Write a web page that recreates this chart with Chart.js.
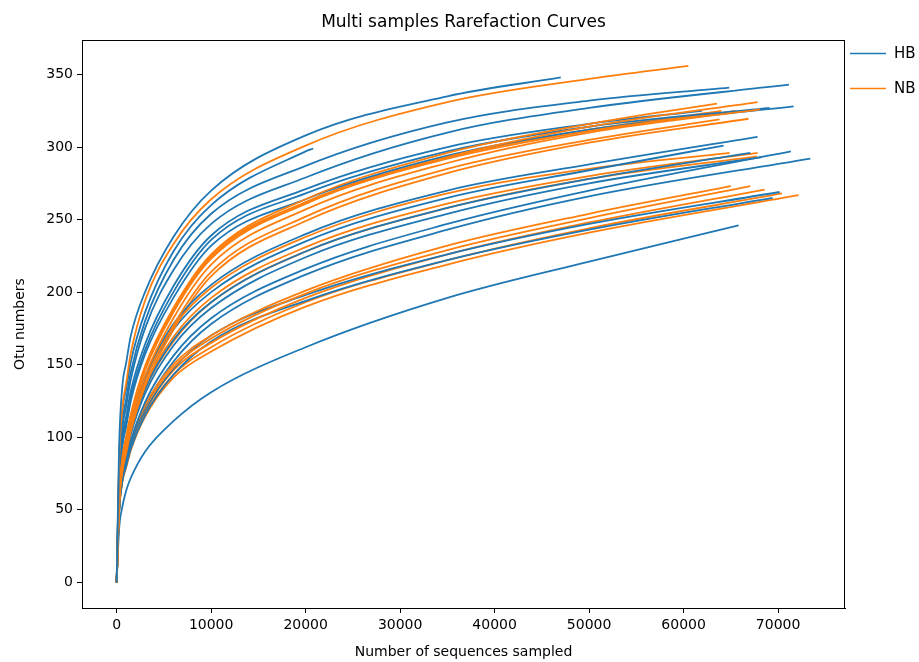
<!DOCTYPE html>
<html>
<head>
<meta charset="utf-8">
<script src="https://cdn.jsdelivr.net/npm/chart.js@4.4.1/dist/chart.umd.min.js"></script>
<style>
  html,body{margin:0;padding:0;background:#fff}
  #wrap{width:919px;height:662px}
</style>
</head>
<body>
<div id="wrap"><canvas id="rare" width="919" height="662"></canvas></div>
<script>
'use strict';
// sampling depths shared by every curve (each curve also has its own end depth)
const SAMPLE_X = [0, 250, 600, 1000, 1500, 3000, 6000, 10000, 20000, 35000, 50000];
const X_TICKS = [0, 10000, 20000, 30000, 40000, 50000, 60000, 70000];
const Y_TICKS = [0, 50, 100, 150, 200, 250, 300, 350];
const GROUPS = ['HB', 'NB'];
const COLORS = ['#1f77b4', '#ff7f0e'];

// HB samples: otu numbers at SAMPLE_X (only depths below the end), then end depth / end value
const HB_Y = [
  [0,92,135,151,170,200,238,270,308,335],
  [0,80,118,133,152,186,228,260,297],
  [0,75,110,126,145,180,222,254,287,317,332],
  [0,72,106,121,140,175,215,247,279,310,327],
  [0,65,96,110,128,160,200,236,268,297,314],
  [0,63,93,107,125,157,196,232,264,294,312],
  [0,68,100,114,132,164,204,239,271,300,316],
  [0,58,85,98,113,142,178,205,240,270,288],
  [0,56,82,95,110,139,174,200,235,265,284],
  [0,53,78,90,105,133,167,193,228,258,278],
  [0,52,76,88,102,130,163,189,224,254,275],
  [0,49,72,83,97,124,156,182,216,247,270],
  [0,48,70,81,95,121,152,178,212,243,266],
  [0,49,72,82,95,118,147,170,198,226,247],
  [0,48,70,80,92,115,143,166,194,222,243],
  [0,36,52,63,72,90,111,131,162,196,221]
];
const HB_END_X = [47000,20800,64830,71150,69100,71640,61930,67830,64230,67060,68290,71350,73410,70160,69420,65820];
const HB_END_Y = [348,299,341,343,327,328,325,307,301,296,293,297,292,269,265,246];

// NB samples
const NB_Y = [
  [0,82,120,137,158,194,233,264,301,331,347],
  [0,58,86,100,116,149,189,226,264,296,316],
  [0,56,83,97,113,146,186,223,261,293,314],
  [0,54,80,94,110,142,182,219,257,289,310],
  [0,57,84,98,114,147,187,224,261,292,311],
  [0,58,85,99,115,148,188,225,262,293,312],
  [0,53,78,91,106,138,177,214,252,285,305],
  [0,52,76,89,104,135,174,211,249,282,303],
  [0,57,84,97,112,141,176,203,238,268,285],
  [0,54,80,92,107,135,169,196,231,261,280],
  [0,53,78,90,105,133,166,193,228,258,278],
  [0,50,74,85,98,122,150,170,201,232,254],
  [0,50,73,83,96,120,148,168,199,229,251],
  [0,49,72,82,95,118,146,165,196,226,248],
  [0,48,70,80,93,116,143,162,193,222,244],
  [0,47,69,79,91,114,141,159,190,219,241]
];
const NB_END_X = [60500,63520,67830,68100,65570,64000,63800,66870,64870,67830,67760,65000,67060,68580,70410,72170];
const NB_END_Y = [356,330,331,326,325,325,319,319.5,296,296,293.6,273,273,270.7,268,266.8];

function curve(ys, endX, endY) {
  const pts = ys.map((y, i) => ({x: SAMPLE_X[i], y}));
  pts.push({x: endX, y: endY});
  return pts;
}

const datasets = [];
const hbSets = HB_Y.map((ys, i) => ({label: 'HB', data: curve(ys, HB_END_X[i], HB_END_Y[i]), borderColor: COLORS[0]}));
const nbSets = NB_Y.map((ys, i) => ({label: 'NB', data: curve(ys, NB_END_X[i], NB_END_Y[i]), borderColor: COLORS[1]}));
// interleave so neither colour sits fully on top
for (let i = 0; i < Math.max(hbSets.length, nbSets.length); i++) {
  if (hbSets[i]) datasets.push(hbSets[i]);
  if (nbSets[i]) datasets.push(nbSets[i]);
}

const frameAndLegend = {
  id: 'frameAndLegend',
  afterDraw(chart) {
    const {ctx, chartArea: a} = chart;
    ctx.save();
    ctx.strokeStyle = '#000'; ctx.lineWidth = 1;
    ctx.strokeRect(a.left + 0.5, a.top + 0.5, a.right - a.left - 1, a.bottom - a.top);
    ctx.font = '15px "DejaVu Sans"';
    ctx.textBaseline = 'middle';
    GROUPS.forEach((g, i) => {
      const y = 53.5 + i * 35;
      ctx.strokeStyle = COLORS[i]; ctx.lineWidth = 1.5;
      ctx.beginPath(); ctx.moveTo(850, y); ctx.lineTo(886, y); ctx.stroke();
      ctx.fillStyle = '#000';
      ctx.fillText(g, 894, y + 1);
    });
    ctx.restore();
  }
};

new Chart(document.getElementById('rare'), {
  type: 'line',
  data: {datasets},
  options: {
    responsive: false,
    animation: false,
    elements: {
      point: {radius: 0, hoverRadius: 0},
      line: {borderWidth: 1.8, cubicInterpolationMode: 'monotone', fill: false}
    },
    layout: {padding: {top: 0, right: 74, left: 0, bottom: 0}},
    plugins: {
      legend: {display: false},
      tooltip: {enabled: false},
      title: {
        display: true, fullSize: false,
        text: 'Multi samples Rarefaction Curves',
        color: '#000', font: {family: 'DejaVu Sans', size: 17, weight: 'normal'},
        padding: {top: 12, bottom: 7.6}
      }
    },
    scales: {
      x: {
        type: 'linear', min: -3670, max: 77080,
        afterBuildTicks: s => { s.ticks = X_TICKS.map(v => ({value: v})); },
        afterFit: s => { s.height = 54; },
        ticks: {color: '#000', font: {family: 'DejaVu Sans', size: 14}, padding: 4, maxRotation: 0, callback: v => String(v)},
        grid: {display: true, drawOnChartArea: false, drawTicks: true, tickLength: 5, color: '#000'},
        border: {display: true, color: '#000', width: 1},
        title: {display: true, text: 'Number of sequences sampled', color: '#000',
          font: {family: 'DejaVu Sans', size: 14}, padding: {top: 0, bottom: 1}}
      },
      y: {
        type: 'linear', min: -17.8, max: 373.8,
        afterBuildTicks: s => { s.ticks = Y_TICKS.map(v => ({value: v})); },
        afterFit: s => { s.width = 82; },
        ticks: {color: '#000', font: {family: 'DejaVu Sans', size: 14}, padding: 4, callback: v => String(v)},
        grid: {display: true, drawOnChartArea: false, drawTicks: true, tickLength: 5, color: '#000'},
        border: {display: true, color: '#000', width: 1},
        title: {display: true, text: 'Otu numbers', color: '#000',
          font: {family: 'DejaVu Sans', size: 14}, padding: {top: 12, bottom: 0}}
      }
    }
  },
  plugins: [frameAndLegend]
});
</script>
</body>
</html>
